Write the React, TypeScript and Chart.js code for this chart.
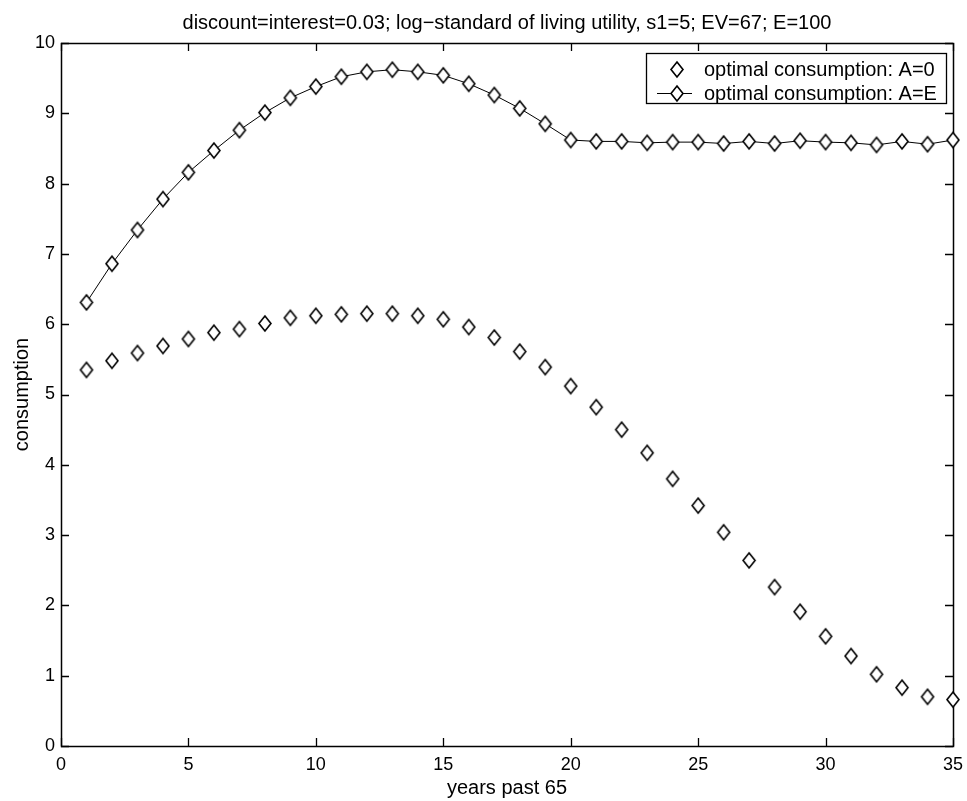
import React, { useEffect, useRef } from "react";
import { Chart, registerables } from "chart.js";

Chart.register(...registerables);

// ---- data ----
const years = [1, 2, 3, 4, 5, 6, 7, 8, 9, 10, 11, 12, 13, 14, 15, 16, 17, 18, 19, 20, 21, 22, 23, 24, 25, 26, 27, 28, 29, 30, 31, 32, 33, 34, 35];
const consumptionA0 = [5.35, 5.48, 5.59, 5.69, 5.79, 5.88, 5.93, 6.01, 6.09, 6.12, 6.14, 6.15, 6.15, 6.12, 6.07, 5.96, 5.81, 5.61, 5.39, 5.12, 4.82, 4.5, 4.17, 3.8, 3.42, 3.04, 2.64, 2.26, 1.91, 1.56, 1.28, 1.02, 0.83, 0.7, 0.66];
const consumptionAE = [6.31, 6.86, 7.34, 7.78, 8.16, 8.47, 8.76, 9.01, 9.22, 9.38, 9.52, 9.59, 9.62, 9.59, 9.54, 9.42, 9.26, 9.07, 8.85, 8.62, 8.6, 8.6, 8.58, 8.59, 8.59, 8.57, 8.6, 8.57, 8.61, 8.59, 8.58, 8.55, 8.6, 8.56, 8.62];
const xTickValues = [0, 5, 10, 15, 20, 25, 30, 35];
const yTickValues = [0, 1, 2, 3, 4, 5, 6, 7, 8, 9, 10];
const seriesLabels = ["optimal consumption: A=0", "optimal consumption: A=E"];
const titleText = "discount=interest=0.03; log\u2212standard of living utility, s1=5; EV=67; E=100";
const xTitle = "years past 65";
const yTitle = "consumption";

const FONT = "'Liberation Sans', Arial, Helvetica, sans-serif";

function makeDiamond(w: number, h: number, lw: number): HTMLCanvasElement {
  const c = document.createElement("canvas");
  c.width = w + 4;
  c.height = h + 4;
  const ctx = c.getContext("2d")!;
  const cx = c.width / 2;
  const cy = c.height / 2;
  ctx.beginPath();
  ctx.moveTo(cx, cy - h / 2);
  ctx.lineTo(cx + w / 2, cy);
  ctx.lineTo(cx, cy + h / 2);
  ctx.lineTo(cx - w / 2, cy);
  ctx.closePath();
  ctx.fillStyle = "#fff";
  ctx.fill();
  ctx.lineWidth = lw;
  ctx.strokeStyle = "#000";
  ctx.stroke();
  return c;
}

const frameTicksPlugin = {
  id: "frameTicks",
  beforeDatasetsDraw(chart: any) {
    const { ctx, chartArea } = chart;
    const { left, right, top, bottom } = chartArea;
    const xs = chart.scales.x;
    const ys = chart.scales.y;
    const tl = 8;
    ctx.save();
    ctx.strokeStyle = "#000";
    ctx.lineWidth = 1.3;
    ctx.beginPath();
    for (const v of xTickValues) {
      const px = Math.round(xs.getPixelForValue(v)) + 0.5;
      ctx.moveTo(px, bottom);
      ctx.lineTo(px, bottom - tl);
      ctx.moveTo(px, top);
      ctx.lineTo(px, top + tl);
    }
    for (const v of yTickValues) {
      const py = Math.round(ys.getPixelForValue(v)) + 0.5;
      ctx.moveTo(left, py);
      ctx.lineTo(left + tl, py);
      ctx.moveTo(right, py);
      ctx.lineTo(right - tl, py);
    }
    ctx.stroke();
    ctx.lineWidth = 1.5;
    ctx.strokeRect(Math.round(left) + 0.5, Math.round(top) + 0.5, Math.round(right - left), Math.round(bottom - top));
    ctx.restore();
  },
};

const boxedLegendPlugin = {
  id: "boxedLegend",
  afterDraw(chart: any) {
    const { ctx, chartArea } = chart;
    const w = 300;
    const h = 50;
    const x0 = Math.round(chartArea.right - 7 - w);
    const y0 = Math.round(chartArea.top + 10);
    ctx.save();
    ctx.fillStyle = "#fff";
    ctx.fillRect(x0, y0, w, h);
    ctx.strokeStyle = "#000";
    ctx.lineWidth = 1.3;
    ctx.strokeRect(x0 + 0.5, y0 + 0.5, w, h);
    const rows = [y0 + 16, y0 + 40];
    const mx = x0 + 31;
    chart.data.datasets.forEach((ds: any, i: number) => {
      const y = rows[i];
      if (ds.showLine !== false) {
        ctx.beginPath();
        ctx.lineWidth = 1;
        ctx.moveTo(x0 + 11, y + 0.5);
        ctx.lineTo(x0 + 46, y + 0.5);
        ctx.stroke();
      }
      const img = ds.pointStyle as HTMLCanvasElement;
      ctx.drawImage(img, Math.round(mx - img.width / 2), Math.round(y - img.height / 2));
      ctx.fillStyle = "#000";
      ctx.font = `20px ${FONT}`;
      ctx.textBaseline = "middle";
      ctx.textAlign = "left";
      ctx.fillText(ds.label, x0 + 58, y + 1);
    });
    ctx.restore();
  },
};

export default function App() {
  const canvasRef = useRef<HTMLCanvasElement | null>(null);

  useEffect(() => {
    const canvas = canvasRef.current;
    if (!canvas) return;
    const diamond = makeDiamond(12, 15, 1.6);
    const chart = new Chart(canvas, {
      type: "line",
      data: {
        datasets: [
          {
            label: seriesLabels[0],
            data: years.map((x, i) => ({ x, y: consumptionA0[i] })),
            showLine: false,
            pointStyle: diamond,
            borderColor: "#000",
            backgroundColor: "#fff",
            clip: false,
          },
          {
            label: seriesLabels[1],
            data: years.map((x, i) => ({ x, y: consumptionAE[i] })),
            showLine: true,
            borderColor: "#000",
            borderWidth: 1,
            tension: 0,
            pointStyle: diamond,
            backgroundColor: "#fff",
            clip: false,
          },
        ],
      },
      options: {
        responsive: false,
        animation: false,
        devicePixelRatio: 1,
        layout: { padding: { left: 0, right: 14, top: 0, bottom: 0 } },
        plugins: {
          legend: { display: false },
          tooltip: { enabled: false },
          title: {
            display: true,
            fullSize: false,
            text: titleText,
            color: "#000",
            font: { family: FONT, size: 20, weight: "normal" },
            padding: { top: 11, bottom: 8 },
          },
        },
        scales: {
          x: {
            type: "linear",
            min: 0,
            max: 35,
            afterBuildTicks: (scale: any) => {
              scale.ticks = xTickValues.map((v) => ({ value: v }));
            },
            afterFit: (scale: any) => {
              scale.height = 55;
              scale.paddingLeft = 0;
              scale.paddingRight = 0;
            },
            grid: { display: false, drawTicks: false },
            border: { display: false },
            ticks: {
              color: "#000",
              padding: 8,
              maxRotation: 0,
              font: { family: FONT, size: 18 },
            },
            title: {
              display: true,
              text: xTitle,
              color: "#000",
              font: { family: FONT, size: 20 },
              padding: { top: 0, bottom: 1 },
            },
          },
          y: {
            type: "linear",
            min: 0,
            max: 10,
            afterBuildTicks: (scale: any) => {
              scale.ticks = yTickValues.map((v) => ({ value: v }));
            },
            afterFit: (scale: any) => {
              scale.width = 61;
              scale.paddingTop = 0;
              scale.paddingBottom = 0;
            },
            grid: { display: false, drawTicks: false },
            border: { display: false },
            ticks: {
              color: "#000",
              padding: 6,
              font: { family: FONT, size: 18 },
            },
            title: {
              display: true,
              text: yTitle,
              color: "#000",
              font: { family: FONT, size: 20 },
              padding: { top: 10, bottom: 0 },
            },
          },
        },
      },
      plugins: [frameTicksPlugin, boxedLegendPlugin],
    } as any);
    return () => chart.destroy();
  }, []);

  return (
    <div style={{ position: "absolute", left: 0, top: 0, width: 967, height: 801, background: "#fff" }}>
      <canvas ref={canvasRef} width={967} height={801} style={{ display: "block" }} />
    </div>
  );
}
